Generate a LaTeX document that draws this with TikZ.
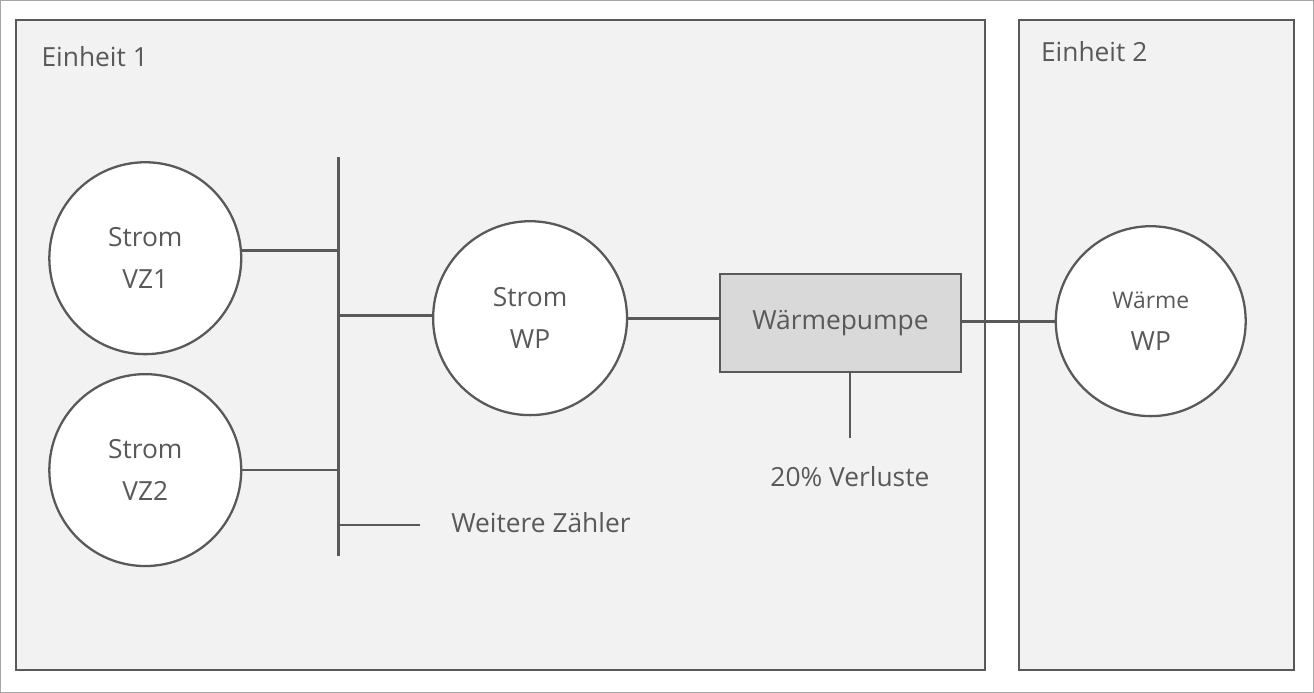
\documentclass[tikz,border=0pt]{standalone}
\usepackage{fontspec}
\setmainfont{Open Sans}
\definecolor{rim}{HTML}{A6A6A6}
\definecolor{ink}{HTML}{595959}
\definecolor{pane}{HTML}{F2F2F2}
\definecolor{boxfill}{HTML}{D9D9D9}
\begin{document}
\begin{tikzpicture}[
    meter/.style={circle, draw=ink, line width=1.3pt, fill=white, text=ink, align=center, font=\fontsize{15}{24}\selectfont},
    wire/.style={draw=ink, line width=1.6pt},
    label/.style={text=ink, font=\fontsize{15}{18}\selectfont}
  ]
  \draw [rim, fill=white] (0,0) rectangle (26.28,13.84);
  \draw [ink, fill=pane, line width=1.2pt] (0.32,0.44) rectangle (19.70,13.44);
  \draw [ink, fill=pane, line width=1.2pt] (20.38,0.44) rectangle (25.88,13.44);
  \node [label, anchor=west] (E1) at (0.7,12.72) {Einheit 1};
  \node [label, anchor=west] (E2) at (20.7,12.82) {Einheit 2};

  \node [meter, minimum size=3.84cm] (VZ1) at (2.9,8.68) {Strom\\VZ1};
  \node [meter, minimum size=3.84cm] (VZ2) at (2.9,4.44) {Strom\\VZ2};
  \node [meter, minimum size=3.88cm] (SWP) at (10.6,7.48) {Strom\\WP};
  \node [meter, minimum size=3.8cm, font=\fontsize{13}{24}\selectfont] (HWP) at (23.02,7.42) {Wärme\\\fontsize{15}{18}\selectfont WP};
  \node [draw=ink, line width=1.3pt, fill=boxfill, text=ink, minimum width=4.82cm, minimum height=1.96cm, font=\fontsize{15}{18}\selectfont] (HP) at (16.81,7.38) {Wärmepumpe};

  \coordinate (BT) at (6.76,10.7);
  \coordinate (BB) at (6.76,2.72);
  \coordinate (B1) at (6.76,8.84);
  \coordinate (B2) at (6.76,4.44);
  \coordinate (B3) at (6.76,7.54);
  \coordinate (B4) at (6.76,3.34);
  \coordinate (BE) at (8.4,3.34);
  \coordinate (LT) at (17.0,6.4);
  \coordinate (LB) at (17.0,5.08);
  \node [label, anchor=west] (WZ) at (8.9,3.38) {Weitere Zähler};
  \node [label] (VL) at (17.0,4.3) {20\% Verluste};

  \draw [wire] (BT) -- (BB);
  \draw [wire] (VZ1.east |- B1) -- (B1);
  \draw [wire] (VZ2) -- (B2);
  \draw [wire] (B3) -- (SWP.west |- B3);
  \draw [wire] (B4) -- (BE);
  \draw [wire] (SWP.east) -- (HP.west |- SWP.east);
  \draw [wire] (HP.east |- HWP.west) -- (HWP.west);
  \draw [wire] (HP.south -| LT) -- (LB);
\end{tikzpicture}
\end{document}
